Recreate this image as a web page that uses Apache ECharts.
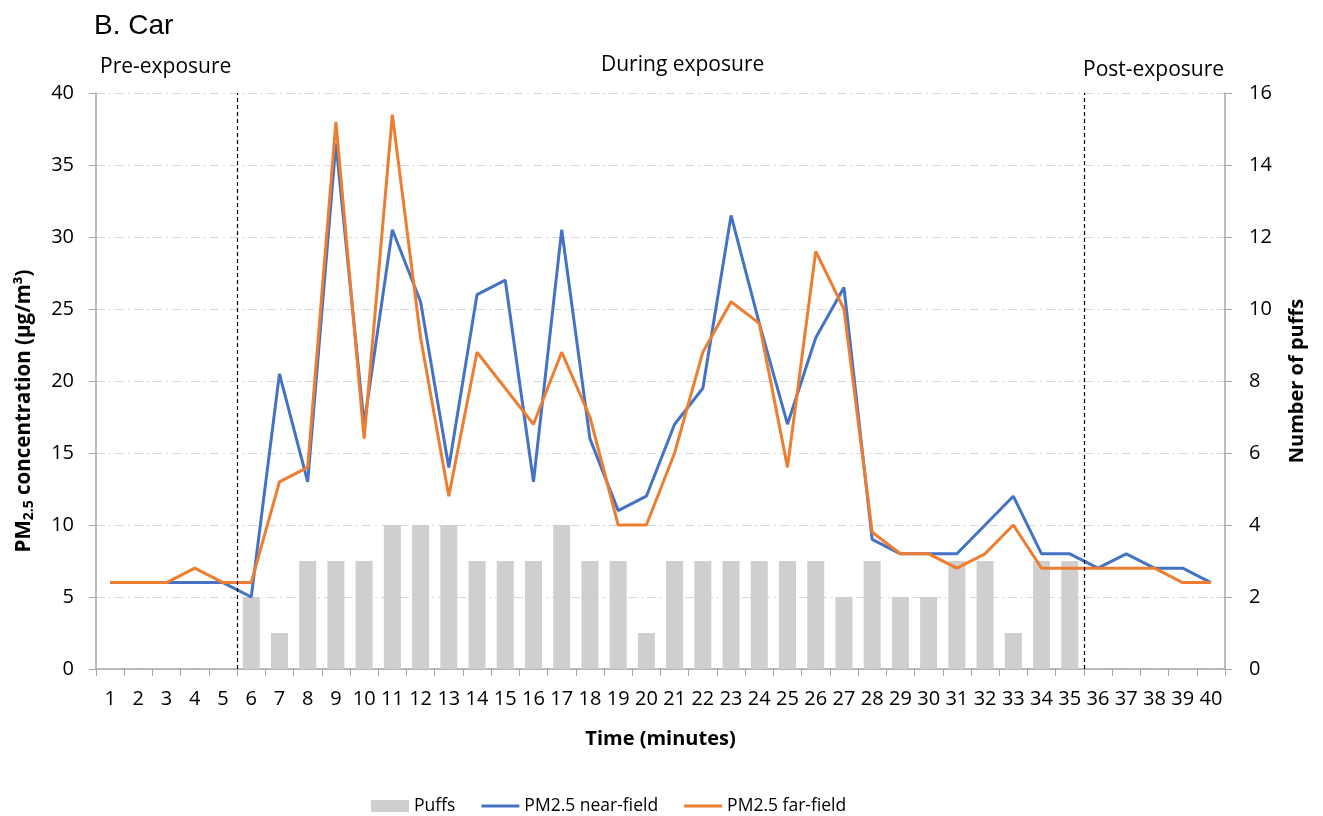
<!DOCTYPE html>
<html>
<head>
<meta charset="utf-8">
<script src="https://cdn.jsdelivr.net/npm/echarts@6/dist/echarts.min.js"></script>
<style>
  html, body { margin: 0; padding: 0; background: #fff; }
  #chart { width: 1323px; height: 816px; }
</style>
</head>
<body>
<div id="chart"></div>
<script>
// Minutes of the session
const minutes = Array.from({ length: 40 }, (_, i) => String(i + 1));

// Puffs per minute (right axis); no puffs outside the exposure window
const puffs = [null, null, null, null, null,
  2, 1, 3, 3, 3, 4, 4, 4, 3, 3, 3, 4, 3, 3, 1,
  3, 3, 3, 3, 3, 3, 2, 3, 2, 2, 3, 3, 1, 3, 3,
  null, null, null, null, null];

// PM2.5 concentrations (µg/m³)
const nearField = [6, 6, 6, 6, 6, 5, 20.5, 13, 36.5, 17,
  30.5, 25.5, 14, 26, 27, 13, 30.5, 16, 11, 12,
  17, 19.5, 31.5, 24, 17, 23, 26.5, 9, 8, 8,
  8, 10, 12, 8, 8, 7, 8, 7, 7, 6];
const farField = [6, 6, 6, 7, 6, 6, 13, 14, 38, 16,
  38.5, 23, 12, 22, 19.5, 17, 22, 17.5, 10, 10,
  15, 22, 25.5, 24, 14, 29, 25, 9.5, 8, 8,
  7, 8, 10, 7, 7, 7, 7, 7, 6, 6];

// Phase boundaries (in minutes elapsed) and phase captions
const phaseBounds = [5, 35];
const phaseLabels = ['Pre-exposure', 'During exposure', 'Post-exposure'];

const FONT = '"Open Sans", "Noto Sans", sans-serif';
const AXIS_GREY = '#a6a6a6';
const gridLine = { show: true, lineStyle: { color: '#d9d9d9', width: 1, type: [9, 4, 2, 4] } };
const lineIcon = 'path://M0,0 L40,0 L40,3 L0,3 Z';

const chart = echarts.init(document.getElementById('chart'));
chart.setOption({
  animation: false,
  textStyle: { fontFamily: FONT },
  title: {
    text: 'B. Car', left: 89, top: 7,
    textStyle: { fontFamily: '"Liberation Sans", Arial, sans-serif', fontSize: 28, fontWeight: 'normal', color: '#000' }
  },
  grid: { left: 96, right: 98, top: 93, bottom: 147 },
  legend: {
    left: 366, top: 792, itemGap: 26, itemWidth: 38, itemHeight: 12,
    textStyle: { fontSize: 17.5, color: '#000', fontFamily: FONT },
    data: [
      { name: 'Puffs', icon: 'rect' },
      { name: 'PM2.5 near-field', icon: lineIcon, itemHeight: 3 },
      { name: 'PM2.5 far-field', icon: lineIcon, itemHeight: 3 }
    ]
  },
  xAxis: [{
    type: 'category', data: minutes, boundaryGap: true,
    name: 'Time (minutes)', nameLocation: 'middle', nameGap: 60,
    nameTextStyle: { fontSize: 20, fontWeight: 'bold', color: '#000', fontFamily: FONT },
    axisLine: { lineStyle: { color: AXIS_GREY, width: 1.5 } },
    axisTick: { show: true, alignWithLabel: false, length: 7, lineStyle: { color: AXIS_GREY } },
    axisLabel: { fontSize: 20, color: '#000', margin: 20, interval: 0 }
  }, {
    // plain numeric scale used to place the phase boundary lines
    type: 'value', min: 0, max: 40, show: false
  }],
  yAxis: [{
    type: 'value', min: 0, max: 40, interval: 5,
    name: '{a|PM}{s|2.5}{a| concentration (µg/m³)}', nameLocation: 'middle', nameGap: 60, nameRotate: 90,
    nameTextStyle: {
      padding: [0, 60, 0, 0],
      rich: {
        a: { fontSize: 20.5, fontWeight: 'bold', color: '#000', fontFamily: FONT },
        s: { fontSize: 14, fontWeight: 'bold', color: '#000', fontFamily: FONT, verticalAlign: 'bottom', padding: [10, 0, 0, 0] }
      }
    },
    axisLine: { show: true, lineStyle: { color: AXIS_GREY, width: 1.5 } },
    axisTick: { show: true, length: 7, lineStyle: { color: AXIS_GREY } },
    axisLabel: { fontSize: 20, color: '#000', margin: 22 },
    splitLine: gridLine
  }, {
    type: 'value', min: 0, max: 16, interval: 2, position: 'right',
    name: 'Number of puffs', nameLocation: 'middle', nameGap: 62, nameRotate: 90,
    nameTextStyle: { fontSize: 20, fontWeight: 'bold', color: '#000', fontFamily: FONT },
    axisLine: { show: true, lineStyle: { color: AXIS_GREY, width: 1.5 } },
    axisTick: { show: true, length: 7, lineStyle: { color: AXIS_GREY } },
    axisLabel: { fontSize: 20, color: '#000', margin: 24 },
    splitLine: { show: false }
  }],
  series: [{
    name: 'Puffs', type: 'bar', xAxisIndex: 0, yAxisIndex: 1, data: puffs,
    barWidth: 17, itemStyle: { color: '#d0cece' }
  }, {
    name: 'PM2.5 near-field', type: 'line', xAxisIndex: 0, yAxisIndex: 0, data: nearField,
    showSymbol: false, lineStyle: { color: '#4472c4', width: 3 }, itemStyle: { color: '#4472c4' }
  }, {
    name: 'PM2.5 far-field', type: 'line', xAxisIndex: 0, yAxisIndex: 0, data: farField,
    showSymbol: false, lineStyle: { color: '#ed7d31', width: 3 }, itemStyle: { color: '#ed7d31' }
  }, {
    name: 'phases', type: 'line', xAxisIndex: 1, yAxisIndex: 0, data: [],
    markLine: {
      silent: true, symbol: 'none', label: { show: false },
      lineStyle: { color: '#000', type: [4, 3], width: 1.2 },
      data: phaseBounds.map(v => ({ xAxis: v }))
    }
  }],
  graphic: [
    { type: 'text', left: 100, top: 57, style: { text: phaseLabels[0], fontSize: 21, fontFamily: FONT, fill: '#000' } },
    { type: 'text', left: 601, top: 55, style: { text: phaseLabels[1], fontSize: 21, fontFamily: FONT, fill: '#000' } },
    { type: 'text', left: 1083, top: 60, style: { text: phaseLabels[2], fontSize: 21, fontFamily: FONT, fill: '#000' } }
  ]
});
</script>
</body>
</html>
